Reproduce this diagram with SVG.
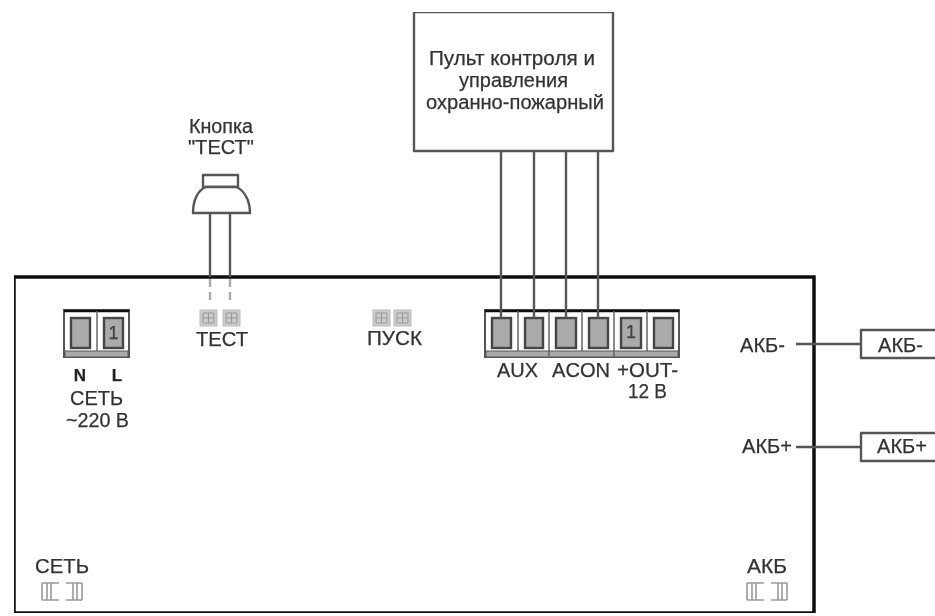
<svg xmlns="http://www.w3.org/2000/svg" width="935" height="616" viewBox="0 0 935 616">
<style>
text{font-family:"Liberation Sans",Arial,sans-serif;font-size:20px;fill:#333;stroke:#333;stroke-width:.25}
.b{font-weight:bold;fill:#222;font-size:17px;text-anchor:middle}
.w{fill:none;stroke:#555;stroke-width:2.4}
.box{fill:#fff;stroke:#555;stroke-width:2.4;stroke-linejoin:round}
.cell{fill:#aaa;stroke:#444;stroke-width:2.4}
.band{fill:#aaa;stroke:#555;stroke-width:1}
.term{fill:#fff;stroke:#555;stroke-width:2}
.top{stroke:#111;stroke-width:2.5}
.div{stroke:#666;stroke-width:1.5}
.ic{fill:#ccc;stroke:#bbb;stroke-width:1}
.ih{fill:none;stroke:#999;stroke-width:1}
.sw{fill:none;stroke:#999;stroke-width:1.6}
.n{font-size:18px;fill:#444;text-anchor:middle}
</style>
<defs>
<filter id="soft" x="0" y="0" width="100%" height="100%"><feGaussianBlur stdDeviation="0.6"/></filter>
<g id="sw"><path class="sw" d="M0 0H17M0 17H17M0 0V17M5 0V17M9 0V17M24 0H40M24 17H40M40 0V17M31 0V17M35 0V17"/></g>
<g id="jp"><rect class="ic" x="0" y="0" width="17" height="16"/><path class="ih" d="M3 3H14V13H3ZM3 8H14M8.500 3V13"/></g>
</defs>
<rect width="935" height="616" fill="#fff"/>
<g filter="url(#soft)">
<g id="unit">
<rect x="14" y="277" width="800" height="336" fill="none" stroke="#111" stroke-width="3.500"/>
</g>
<g id="panel">
<rect class="box" x="414" y="12" width="199" height="139"/>
<text x="429" y="65" textLength="166" lengthAdjust="spacingAndGlyphs">Пульт контроля и</text>
<text x="459" y="87" textLength="109" lengthAdjust="spacingAndGlyphs">управления</text>
<text x="426" y="109" textLength="178" lengthAdjust="spacingAndGlyphs">охранно-пожарный</text>
</g>
<g id="button">
<text x="189" y="133" textLength="64" lengthAdjust="spacingAndGlyphs">Кнопка</text>
<text x="188" y="154" textLength="66" lengthAdjust="spacingAndGlyphs">"ТЕСТ"</text>
<rect class="box" x="203" y="175" width="35" height="12"/>
<path class="box" d="M193 213C193 200 198 190 206 187H236C244 190 250 200 250 213Z"/>
</g>
<g id="mains-terminal">
<rect class="term" x="64" y="310" width="65" height="47"/>
<path class="top" d="M64 311H129"/>
<rect class="band" x="65" y="351" width="63" height="6"/>
<path class="div" d="M97 311V351"/>
<rect class="cell" x="71" y="318" width="19" height="30"/>
<rect class="cell" x="104" y="318" width="19" height="30"/>
<text class="n" x="113.500" y="339">1</text>
<text class="b" x="80" y="381">N</text>
<text class="b" x="117" y="381">L</text>
<text x="70" y="405" textLength="53" lengthAdjust="spacingAndGlyphs">СЕТЬ</text>
<text x="66" y="427" textLength="63" lengthAdjust="spacingAndGlyphs">~220 В</text>
</g>
<g id="test-jumper">
<use href="#jp" x="200" y="310"/>
<use href="#jp" x="223" y="310"/>
<text x="196" y="346" textLength="52" lengthAdjust="spacingAndGlyphs">ТЕСТ</text>
</g>
<g id="start-jumper">
<use href="#jp" x="373" y="310"/>
<use href="#jp" x="394" y="310"/>
<text x="367" y="345" textLength="55" lengthAdjust="spacingAndGlyphs">ПУСК</text>
</g>
<g id="output-terminal">
<rect class="term" x="485" y="310" width="194" height="47"/>
<path class="top" d="M485 311H679"/>
<rect class="band" x="486" y="351" width="192" height="6"/>
<path class="div" d="M518 311V351M549 311V357M582 311V351M614 311V357M647 311V351"/>
<rect class="cell" x="492" y="318" width="19" height="30"/>
<rect class="cell" x="525" y="318" width="18" height="30"/>
<rect class="cell" x="556" y="318" width="20" height="30"/>
<rect class="cell" x="589" y="318" width="19" height="30"/>
<rect class="cell" x="621" y="318" width="20" height="30"/>
<text class="n" x="631" y="338">1</text>
<rect class="cell" x="654" y="318" width="19" height="30"/>
<text x="497" y="377" textLength="41" lengthAdjust="spacingAndGlyphs">AUX</text>
<text x="552" y="377" textLength="58" lengthAdjust="spacingAndGlyphs">ACON</text>
<text x="617" y="377" textLength="61" lengthAdjust="spacingAndGlyphs">+OUT-</text>
<text x="628" y="398" textLength="39" lengthAdjust="spacingAndGlyphs">12 В</text>
</g>
<g id="mains-led">
<text x="35" y="573" textLength="54" lengthAdjust="spacingAndGlyphs">СЕТЬ</text>
<use href="#sw" x="42" y="583"/>
</g>
<g id="battery-led">
<text x="747" y="573" textLength="40" lengthAdjust="spacingAndGlyphs">АКБ</text>
<use href="#sw" x="747" y="583"/>
</g>
<g id="battery-labels">
<text x="740" y="352" textLength="45" lengthAdjust="spacingAndGlyphs">АКБ-</text>
<text x="742" y="453" textLength="50" lengthAdjust="spacingAndGlyphs">АКБ+</text>
</g>
<g id="battery-minus">
<path class="box" d="M937 330H861V358H937"/>
<text x="878" y="352" textLength="45" lengthAdjust="spacingAndGlyphs">АКБ-</text>
</g>
<g id="battery-plus">
<path class="box" d="M937 433H861V461H937"/>
<text x="877" y="453" textLength="50" lengthAdjust="spacingAndGlyphs">АКБ+</text>
</g>
<g id="connectors">
<path class="w" d="M210 213V277M230 213V277M501 151V318M534 151V318M566 151V318M598 151V318M796 344H861M796 447H861"/>
<path class="w" d="M210 279V303M230 279V303" stroke-dasharray="8 5" style="stroke:#aaa"/>
</g>
</g>
</svg>
